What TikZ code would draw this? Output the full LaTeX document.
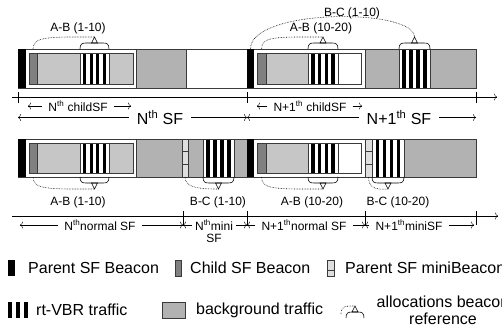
\documentclass[tikz,border=0pt]{standalone}
\usepackage{fontspec}
\setmainfont{Liberation Sans}
\usepackage{tikz}
\usetikzlibrary{arrows.meta}

\definecolor{bggray}{HTML}{B2B2B2}
\definecolor{chgray}{HTML}{C6C6C6}
\definecolor{bcgray}{HTML}{808080}
\definecolor{mbgray}{HTML}{DEDEDE}
\definecolor{rim}{HTML}{3A3A3A}

\newcommand{\vbrstripes}[4]{%
  \fill[white] (#1,#2) rectangle (#3,#4);
  \foreach \k in {0,...,3}
    \fill ({#1+(2*\k+1)*(#3-#1)/9},#2) rectangle ({#1+(2*\k+2)*(#3-#1)/9},#4);
  \draw[box] (#1,#2) rectangle (#3,#4);}

\newcommand{\allocbrk}[5]{%
  \draw[brace] (#1,#3) .. controls (#1,{#3+5*(#4)}) and ({#1+2},{#3+6*(#4)}) .. ({#1+6},{#3+6*(#4)})
    -- ({#2-6},{#3+6*(#4)}) .. controls ({#2-2},{#3+6*(#4)}) and (#2,{#3+5*(#4)}) .. (#2,#3);
  \coordinate (#5) at ({(#1+#2)/2},{#3+12*(#4)});
  \draw[brace] (#5) -- ++(-3,{-6*(#4)}) -- ++(6,0) -- cycle;}

\begin{document}
\begin{tikzpicture}[x=1pt, y=-1pt, >={To[length=3pt,width=7pt]}, inner sep=1pt,
  box/.style={draw=rim, line width=0.5pt},
  brace/.style={line width=0.6pt},
  alloc/.style={densely dotted, line width=0.6pt},
  lab/.style={font=\fontsize{12}{13}\selectfont},
  sflab/.style={font=\fontsize{16}{18}\selectfont, inner xsep=8pt},
  dimlab/.style={font=\fontsize{12}{13}\selectfont, inner xsep=6pt},
  leg/.style={font=\fontsize{16}{18}\selectfont, anchor=west, inner sep=0pt}]
\useasboundingbox (0,0) rectangle (502,331);

% upper row
\draw[box, fill=white] (18,49) rectangle (476,88);
\fill (18,49) rectangle (26,88);
\draw[box, fill=chgray] (29,53) rectangle (133,84);
\draw[box, fill=bcgray] (29,53) rectangle (37,84);
\vbrstripes{80}{53}{109}{84}
\draw[box, fill=bggray] (136,49) rectangle (186,88);
\fill (247,49) rectangle (254,88);
\draw[box, fill=white] (257,53) rectangle (361,84);
\draw[box, fill=chgray] (257,53) rectangle (308,84);
\draw[box, fill=bcgray] (257,53) rectangle (266,84);
\vbrstripes{308}{53}{338}{84}
\draw[box, fill=bggray] (365,49) rectangle (476,88);
\vbrstripes{399}{49}{430}{88}

\allocbrk{80}{109}{49}{-1}{tA}
\allocbrk{308}{338}{49}{-1}{tB}
\allocbrk{399}{430}{49}{-1}{tC}
\coordinate (cA) at (33,49);
\coordinate (cB) at (261.5,49);
\coordinate (pB) at (250.5,49);
\draw[alloc] (cA) .. controls (33,36) and (50,37) .. (tA);
\draw[alloc] (cB) .. controls (261.5,36) and (278,37) .. (tB);
\draw[alloc] (pB) .. controls (250.5,8) and (414.5,8) .. (tC);
\node[lab] (lA) at (78,28) {A-B (1-10)};
\node[lab] (lB) at (321,28) {A-B (10-20)};
\node[lab] (lC) at (352,13) {B-C (1-10)};

\coordinate (u0) at (12,97);
\coordinate (u1) at (497,97);
\draw[->] (u0) -- (u1);
\foreach \x in {18,247,476} \draw (\x,92) -- (\x,103);
\node[dimlab] (chN) at (78,106) {N\textsuperscript{th} childSF};
\node[dimlab] (chN1) at (310,106) {N+1\textsuperscript{th} childSF};
\coordinate (ch0) at (28,106);
\coordinate (ch1) at (131,106);
\coordinate (ch2) at (257,106);
\coordinate (ch3) at (362,106);
\draw[->] (chN) -- (ch0);
\draw[->] (chN) -- (ch1);
\draw[->] (chN1) -- (ch2);
\draw[->] (chN1) -- (ch3);
\node[sflab] (sfN) at (160,117.5) {N\textsuperscript{th} SF};
\node[sflab] (sfN1) at (399,117.5) {N+1\textsuperscript{th} SF};
\coordinate (sf0) at (18,117.5);
\coordinate (sf1) at (247,117.5);
\coordinate (sf2) at (476,117.5);
\draw[->] (sfN) -- (sf0);
\draw[->] (sfN) -- (sf1);
\draw[->] (sfN1) -- (sf1);
\draw[->] (sfN1) -- (sf2);

% lower row
\draw[box, fill=white] (18,139) rectangle (476,177);
\fill (18,139) rectangle (26,177);
\draw[box, fill=chgray] (29,143) rectangle (133,173);
\draw[box, fill=bcgray] (29,143) rectangle (37,173);
\vbrstripes{80}{143}{109}{173}
\draw[box, fill=bggray] (136,139) rectangle (247,177);
\draw[box, fill=mbgray] (182,139) rectangle (188,177);
\draw[box] (182,151.7) -- (188,151.7) (182,164.3) -- (188,164.3);
\vbrstripes{203}{139}{234}{177}
\fill (247,139) rectangle (254,177);
\draw[box, fill=white] (257,143) rectangle (361,173);
\draw[box, fill=chgray] (257,143) rectangle (308,173);
\draw[box, fill=bcgray] (257,143) rectangle (266,173);
\vbrstripes{308}{143}{338}{173}
\draw[box, fill=bggray] (365,139) rectangle (476,177);
\draw[box, fill=mbgray] (365,139) rectangle (372,177);
\draw[box] (365,151.7) -- (372,151.7) (365,164.3) -- (372,164.3);
\vbrstripes{372}{139}{404}{177}

\allocbrk{80}{109}{177}{1}{bA}
\allocbrk{203}{234}{177}{1}{bB}
\allocbrk{308}{338}{177}{1}{bC}
\allocbrk{372}{404}{177}{1}{bD}
\coordinate (dA) at (33,177);
\coordinate (mA) at (185,177);
\coordinate (dB) at (261.5,177);
\coordinate (mB) at (368.5,177);
\draw[alloc] (dA) .. controls (33,190) and (50,189) .. (bA);
\draw[alloc] (mA) .. controls (185,188) and (200,189) .. (bB);
\draw[alloc] (dB) .. controls (261.5,190) and (278,189) .. (bC);
\draw[alloc] (mB) .. controls (368.5,188) and (376,190) .. (bD);
\node[lab] (lA2) at (78,202) {A-B (1-10)};
\node[lab] (lB2) at (218,202) {B-C (1-10)};
\node[lab] (lC2) at (312,202) {A-B (10-20)};
\node[lab] (lD2) at (398,202) {B-C (10-20)};

\coordinate (w0) at (12,216);
\coordinate (w1) at (498,216);
\draw[->] (w0) -- (w1);
\foreach \x in {183,247,365,476} \draw (\x,211) -- (\x,225);
\coordinate (n0) at (20,225);
\coordinate (n1) at (183,225);
\coordinate (n2) at (247,225);
\coordinate (n3) at (365,225);
\coordinate (n4) at (474,225);
\node[dimlab] (nrN) at (100,225) {N\textsuperscript{th}normal SF};
\node[dimlab, inner xsep=3pt] (mnN) at (214,225) {N\textsuperscript{th}mini};
\node[lab] (mnSF) at (214,238) {SF};
\node[dimlab] (nrN1) at (304,225) {N+1\textsuperscript{th}normal SF};
\node[dimlab] (mnN1) at (409,225) {N+1\textsuperscript{th}miniSF};
\draw[->] (nrN) -- (n0);
\draw[->] (nrN) -- (n1);
\draw[->] (mnN) -- (n1);
\draw[->] (mnN) -- (n2);
\draw[->] (nrN1) -- (n2);
\draw[->] (nrN1) -- (n3);
\draw[->] (mnN1) -- (n3);
\draw[->] (mnN1) -- (n4);

% legend
\fill (8,260) rectangle (15,276);
\node[leg] (lgP) at (28,268) {Parent SF Beacon};
\draw[box, fill=bcgray] (175,260) rectangle (181,276);
\node[leg] (lgC) at (190,268) {Child SF Beacon};
\draw[box, fill=mbgray] (327,260) rectangle (334,276);
\draw[box] (327,270) -- (334,270);
\node[leg] (lgM) at (345,268) {Parent SF miniBeacon};
\foreach \k in {0,1,2} \fill ({8+8*\k},302) rectangle ++(4,16);
\node[leg] (lgR) at (36,310) {rt-VBR traffic};
\draw[box, fill=bggray] (162,302) rectangle (185,318);
\node[leg] (lgB) at (196,310) {background traffic};
\allocbrk{346}{364}{318}{-1}{lgT}
\coordinate (lgS) at (341,314);
\draw[alloc] (lgS) .. controls (341,306) and (345,306) .. (lgT);
\node[font=\fontsize{16}{17}\selectfont, align=center, inner sep=0pt] (lgA) at (443,310) {allocations beacon\\reference};
\end{tikzpicture}
\end{document}
